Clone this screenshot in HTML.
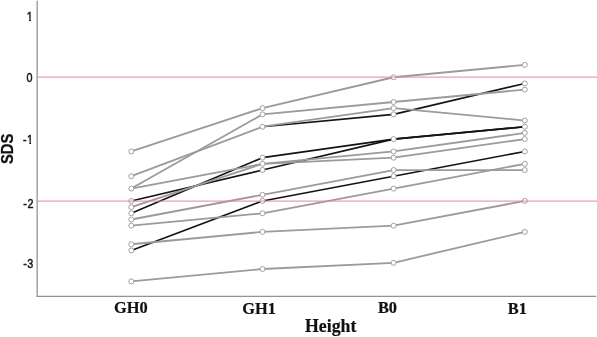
<!DOCTYPE html>
<html><head><meta charset="utf-8"><title>Height SDS</title>
<style>
html,body{margin:0;padding:0;background:#fff;}
body{width:597px;height:337px;overflow:hidden;}
svg{display:block;}
.t{font-family:"Liberation Sans",Arial,sans-serif;font-size:11.6px;fill:#151515;stroke:#151515;stroke-width:0.45px;}
.x{font-family:"Liberation Serif","Times New Roman",serif;font-weight:bold;font-size:16.4px;fill:#111;stroke:#111;stroke-width:0.2px;}
.s{font-family:"Liberation Sans",Arial,sans-serif;font-weight:bold;font-size:15px;fill:#111;stroke:#111;stroke-width:0.25px;}
</style></head><body>
<svg width="597" height="337" viewBox="0 0 597 337">
<rect width="597" height="337" fill="#fff"/>
<defs><clipPath id="c1"><rect x="25.8" y="8.600000000000001" width="9" height="9.6"/><rect x="29.1" y="18.0" width="1.65" height="3.3"/></clipPath><clipPath id="c2"><rect x="26.1" y="131.5" width="9" height="9.6"/><rect x="29.4" y="140.9" width="1.65" height="3.3"/></clipPath></defs>
<line x1="37.15" y1="0.8" x2="37.15" y2="296.7" stroke="#8f8f8f" stroke-width="1.25"/>
<line x1="36.6" y1="296.35" x2="596.3" y2="296.35" stroke="#939393" stroke-width="1.15"/>
<polyline points="262.5,126.73 393.6,114.36 524.8,83.44" fill="none" stroke="#141414" stroke-width="1.65" stroke-linejoin="round"/>
<polyline points="131.3,200.95 262.5,170.03 393.6,139.1 524.8,126.73" fill="none" stroke="#141414" stroke-width="1.65" stroke-linejoin="round"/>
<polyline points="131.3,213.32 262.5,157.66 393.6,139.1 524.8,126.73" fill="none" stroke="#141414" stroke-width="1.65" stroke-linejoin="round"/>
<polyline points="131.3,250.43 262.5,200.95 393.6,176.21 524.8,151.47" fill="none" stroke="#141414" stroke-width="1.65" stroke-linejoin="round"/>
<polyline points="131.3,151.47 262.5,108.17 393.6,77.25 524.8,64.88" fill="none" stroke="#9d9a98" stroke-width="1.8" stroke-linejoin="round"/>
<polyline points="131.3,176.21 262.5,126.73 393.6,108.17 524.8,120.55" fill="none" stroke="#9d9a98" stroke-width="1.8" stroke-linejoin="round"/>
<polyline points="131.3,188.58 262.5,114.36 393.6,101.99 524.8,89.62" fill="none" stroke="#9d9a98" stroke-width="1.8" stroke-linejoin="round"/>
<polyline points="131.3,188.58 262.5,163.84 393.6,151.47 524.8,132.91" fill="none" stroke="#9d9a98" stroke-width="1.8" stroke-linejoin="round"/>
<polyline points="131.3,207.14 262.5,163.84 393.6,157.66 524.8,139.1" fill="none" stroke="#9d9a98" stroke-width="1.8" stroke-linejoin="round"/>
<polyline points="131.3,219.5 262.5,194.76 393.6,170.03 524.8,170.03" fill="none" stroke="#9d9a98" stroke-width="1.8" stroke-linejoin="round"/>
<polyline points="131.3,225.69 262.5,213.32 393.6,188.58 524.8,163.84" fill="none" stroke="#9d9a98" stroke-width="1.8" stroke-linejoin="round"/>
<polyline points="131.3,244.25 262.5,231.88 393.6,225.69 524.8,200.95" fill="none" stroke="#9d9a98" stroke-width="1.8" stroke-linejoin="round"/>
<polyline points="131.3,281.36 262.5,268.99 393.6,262.8 524.8,231.88" fill="none" stroke="#9d9a98" stroke-width="1.8" stroke-linejoin="round"/>
<circle cx="262.5" cy="126.73" r="2.5" fill="#fff" stroke="#a3a19f" stroke-width="1"/>
<circle cx="393.6" cy="114.36" r="2.5" fill="#fff" stroke="#a3a19f" stroke-width="1"/>
<circle cx="524.8" cy="83.44" r="2.5" fill="#fff" stroke="#a3a19f" stroke-width="1"/>
<circle cx="131.3" cy="200.95" r="2.5" fill="#fff" stroke="#a3a19f" stroke-width="1"/>
<circle cx="262.5" cy="170.03" r="2.5" fill="#fff" stroke="#a3a19f" stroke-width="1"/>
<circle cx="393.6" cy="139.1" r="2.5" fill="#fff" stroke="#a3a19f" stroke-width="1"/>
<circle cx="524.8" cy="126.73" r="2.5" fill="#fff" stroke="#a3a19f" stroke-width="1"/>
<circle cx="131.3" cy="213.32" r="2.5" fill="#fff" stroke="#a3a19f" stroke-width="1"/>
<circle cx="262.5" cy="157.66" r="2.5" fill="#fff" stroke="#a3a19f" stroke-width="1"/>
<circle cx="131.3" cy="250.43" r="2.5" fill="#fff" stroke="#a3a19f" stroke-width="1"/>
<circle cx="262.5" cy="200.95" r="2.5" fill="#fff" stroke="#a3a19f" stroke-width="1"/>
<circle cx="393.6" cy="176.21" r="2.5" fill="#fff" stroke="#a3a19f" stroke-width="1"/>
<circle cx="524.8" cy="151.47" r="2.5" fill="#fff" stroke="#a3a19f" stroke-width="1"/>
<circle cx="131.3" cy="151.47" r="2.5" fill="#fff" stroke="#a3a19f" stroke-width="1"/>
<circle cx="262.5" cy="108.17" r="2.5" fill="#fff" stroke="#a3a19f" stroke-width="1"/>
<circle cx="393.6" cy="77.25" r="2.5" fill="#fff" stroke="#a3a19f" stroke-width="1"/>
<circle cx="524.8" cy="64.88" r="2.5" fill="#fff" stroke="#a3a19f" stroke-width="1"/>
<circle cx="131.3" cy="176.21" r="2.5" fill="#fff" stroke="#a3a19f" stroke-width="1"/>
<circle cx="393.6" cy="108.17" r="2.5" fill="#fff" stroke="#a3a19f" stroke-width="1"/>
<circle cx="524.8" cy="120.55" r="2.5" fill="#fff" stroke="#a3a19f" stroke-width="1"/>
<circle cx="131.3" cy="188.58" r="2.5" fill="#fff" stroke="#a3a19f" stroke-width="1"/>
<circle cx="262.5" cy="114.36" r="2.5" fill="#fff" stroke="#a3a19f" stroke-width="1"/>
<circle cx="393.6" cy="101.99" r="2.5" fill="#fff" stroke="#a3a19f" stroke-width="1"/>
<circle cx="524.8" cy="89.62" r="2.5" fill="#fff" stroke="#a3a19f" stroke-width="1"/>
<circle cx="262.5" cy="163.84" r="2.5" fill="#fff" stroke="#a3a19f" stroke-width="1"/>
<circle cx="393.6" cy="151.47" r="2.5" fill="#fff" stroke="#a3a19f" stroke-width="1"/>
<circle cx="524.8" cy="132.91" r="2.5" fill="#fff" stroke="#a3a19f" stroke-width="1"/>
<circle cx="131.3" cy="207.14" r="2.5" fill="#fff" stroke="#a3a19f" stroke-width="1"/>
<circle cx="393.6" cy="157.66" r="2.5" fill="#fff" stroke="#a3a19f" stroke-width="1"/>
<circle cx="524.8" cy="139.1" r="2.5" fill="#fff" stroke="#a3a19f" stroke-width="1"/>
<circle cx="131.3" cy="219.5" r="2.5" fill="#fff" stroke="#a3a19f" stroke-width="1"/>
<circle cx="262.5" cy="194.76" r="2.5" fill="#fff" stroke="#a3a19f" stroke-width="1"/>
<circle cx="393.6" cy="170.03" r="2.5" fill="#fff" stroke="#a3a19f" stroke-width="1"/>
<circle cx="524.8" cy="170.03" r="2.5" fill="#fff" stroke="#a3a19f" stroke-width="1"/>
<circle cx="131.3" cy="225.69" r="2.5" fill="#fff" stroke="#a3a19f" stroke-width="1"/>
<circle cx="262.5" cy="213.32" r="2.5" fill="#fff" stroke="#a3a19f" stroke-width="1"/>
<circle cx="393.6" cy="188.58" r="2.5" fill="#fff" stroke="#a3a19f" stroke-width="1"/>
<circle cx="524.8" cy="163.84" r="2.5" fill="#fff" stroke="#a3a19f" stroke-width="1"/>
<circle cx="131.3" cy="244.25" r="2.5" fill="#fff" stroke="#a3a19f" stroke-width="1"/>
<circle cx="262.5" cy="231.88" r="2.5" fill="#fff" stroke="#a3a19f" stroke-width="1"/>
<circle cx="393.6" cy="225.69" r="2.5" fill="#fff" stroke="#a3a19f" stroke-width="1"/>
<circle cx="524.8" cy="200.95" r="2.5" fill="#fff" stroke="#a3a19f" stroke-width="1"/>
<circle cx="131.3" cy="281.36" r="2.5" fill="#fff" stroke="#a3a19f" stroke-width="1"/>
<circle cx="262.5" cy="268.99" r="2.5" fill="#fff" stroke="#a3a19f" stroke-width="1"/>
<circle cx="393.6" cy="262.8" r="2.5" fill="#fff" stroke="#a3a19f" stroke-width="1"/>
<circle cx="524.8" cy="231.88" r="2.5" fill="#fff" stroke="#a3a19f" stroke-width="1"/>
<line x1="37.5" y1="77.1" x2="597" y2="77.1" stroke="#f07f9f" stroke-width="1"/>
<line x1="37.5" y1="201.1" x2="597" y2="201.1" stroke="#f07f9f" stroke-width="1"/>
<g clip-path="url(#c1)"><text class="t" transform="translate(26.8,20.6) scale(0.93,1.04)" text-anchor="start">1</text></g>
<text class="t" transform="translate(32.45,82.15) scale(0.93,1.04)" text-anchor="end">0</text>
<text class="t" transform="translate(23.1,143.5) scale(0.93,1.04)" text-anchor="start">-</text>
<g clip-path="url(#c2)"><text class="t" transform="translate(27.1,143.5) scale(0.93,1.04)" text-anchor="start">1</text></g>
<text class="t" transform="translate(23.2,207.9) scale(0.93,1.04)" text-anchor="start">-</text>
<text class="t" transform="translate(33.4,207.9) scale(0.93,1.04)" text-anchor="end">2</text>
<text class="t" transform="translate(23.15,268.2) scale(0.93,1.04)" text-anchor="start">-</text>
<text class="t" transform="translate(33.3,268.2) scale(0.93,1.04)" text-anchor="end">3</text>
<text class="s" transform="translate(12.5,148.8) rotate(-90) scale(0.985,1.08)" text-anchor="middle">SDS</text>
<text class="x" x="130.9" y="312.75" text-anchor="middle">GH0</text>
<text class="x" x="259.0" y="314.0" text-anchor="middle">GH1</text>
<text class="x" x="387.5" y="313.15" text-anchor="middle">B0</text>
<text class="x" x="517.4" y="313.7" text-anchor="middle">B1</text>
<text class="x" x="330.7" y="332.05" text-anchor="middle" style="font-size:17.8px">Height</text>
</svg></body></html>
